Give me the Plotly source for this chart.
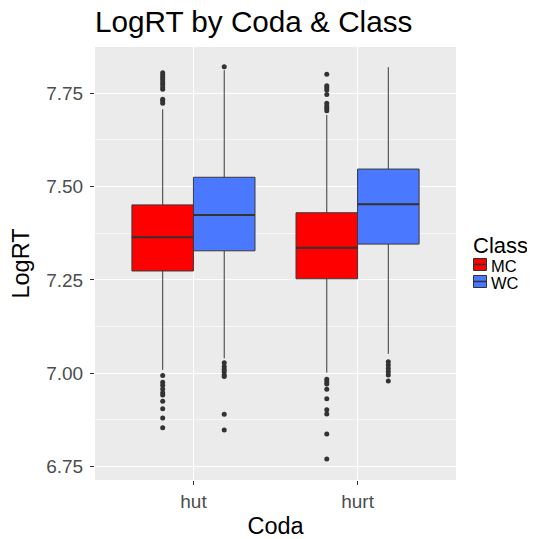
import plotly.graph_objects as go

codas = ["hut", "hurt"]
classes = ["MC", "WC"]
colors = {"MC": "#FF0000", "WC": "#4A78FF"}

# box statistics per (coda, class)
q1 = {"MC": [7.274, 7.253], "WC": [7.328, 7.346]}
median = {"MC": [7.364, 7.336], "WC": [7.424, 7.453]}
q3 = {"MC": [7.451, 7.430], "WC": [7.525, 7.547]}
lowerfence = {"MC": [7.009, 7.002], "WC": [7.040, 7.052]}
upperfence = {"MC": [7.707, 7.692], "WC": [7.812, 7.820]}

outliers = {
    ("hut", "MC"): [7.805, 7.799, 7.793, 7.787, 7.780, 7.774, 7.767, 7.761, 7.734, 7.729, 7.723,
                    6.994, 6.976, 6.968, 6.958, 6.948, 6.942, 6.925, 6.905, 6.880, 6.854],
    ("hut", "WC"): [7.821, 7.028, 7.018, 7.011, 7.004, 6.995, 6.991, 6.890, 6.848],
    ("hurt", "MC"): [7.801, 7.770, 7.765, 7.759, 7.747, 7.723, 7.716, 7.710, 7.703,
                     6.984, 6.977, 6.971, 6.957, 6.932, 6.902, 6.891, 6.837, 6.770],
    ("hurt", "WC"): [7.031, 7.022, 7.013, 7.004, 6.995, 6.979],
}

# the page body has an 8px default margin; size the figure so the visible window is filled
BODY = 8
W, H = 535 - BODY, 539 - BODY
ML, MR, MT, MB = 95 - BODY, 79, 47 - BODY, 59
PW, PH = W - ML - MR, H - MT - MB

dodge = 0.75
bw = dodge / len(classes)
offsets = {c: -dodge / 2 + bw * (i + 0.5) for i, c in enumerate(classes)}

fig = go.Figure()
for c in classes:
    for i, coda in enumerate(codas):
        xpos = i + 1 + offsets[c]
        fig.add_trace(go.Box(
            x=[xpos], q1=[q1[c][i]], median=[median[c][i]], q3=[q3[c][i]],
            lowerfence=[lowerfence[c][i]], upperfence=[upperfence[c][i]],
            width=bw, whiskerwidth=0, boxpoints=False,
            fillcolor=colors[c], line=dict(color="#3A3A3A", width=1),
            name=c, showlegend=False, hoverinfo="skip",
        ))
        # thicker median line (ggplot fatten)
        fig.add_trace(go.Scatter(
            x=[xpos - bw / 2, xpos + bw / 2], y=[median[c][i]] * 2, mode="lines",
            line=dict(color="#333333", width=2), showlegend=False, hoverinfo="skip",
        ))
        pts = outliers[(coda, c)]
        fig.add_trace(go.Scatter(
            x=[xpos] * len(pts), y=pts, mode="markers",
            marker=dict(color="#333333", size=5), showlegend=False, hoverinfo="skip",
        ))


def px_x(p):  # page pixel -> paper fraction
    return (p - BODY - ML) / PW


def px_y(p):
    return (H - MB - (p - BODY)) / PH


# manual ggplot-style legend
shapes = []
annotations = [dict(text="Class", x=px_x(471), y=px_y(245.5), xref="paper", yref="paper",
                    xanchor="left", yanchor="middle", showarrow=False,
                    font=dict(size=22, color="black"))]
for k, c in enumerate(classes):
    top = 258.5 + k * 17
    shapes.append(dict(type="rect", xref="paper", yref="paper",
                       x0=px_x(473.5), x1=px_x(486.5), y0=px_y(top), y1=px_y(top + 12),
                       fillcolor=colors[c], line=dict(color="#333333", width=1)))
    shapes.append(dict(type="line", xref="paper", yref="paper",
                       x0=px_x(473.5), x1=px_x(486.5), y0=px_y(top + 6), y1=px_y(top + 6),
                       line=dict(color="#333333", width=1.5)))
    annotations.append(dict(text=c, x=px_x(489.5), y=px_y(top + 7.5), xref="paper", yref="paper",
                            xanchor="left", yanchor="middle", showarrow=False,
                            font=dict(size=16.5, color="black")))

fig.update_layout(
    width=W, height=H,
    margin=dict(l=ML, r=MR, t=MT, b=MB),
    paper_bgcolor="white", plot_bgcolor="#EBEBEB",
    font=dict(family="Liberation Sans, Arial, sans-serif", color="black"),
    title=dict(text="LogRT by Coda & Class", x=0, xref="paper", xanchor="left",
               y=1, yref="container", yanchor="top", pad=dict(t=3),
               font=dict(size=29.7, color="black")),
    showlegend=False,
    shapes=shapes, annotations=annotations,
)
fig.update_xaxes(
    range=[0.4, 2.6], tickvals=[1, 2], ticktext=codas, automargin=False,
    showgrid=True, gridcolor="white", gridwidth=1.4, zeroline=False,
    ticks="outside", ticklen=4, tickcolor="#333333",
    tickfont=dict(size=19, color="#4D4D4D"),
    title=dict(text="Coda", font=dict(size=23.5), standoff=6),
)
fig.update_yaxes(
    range=[6.714, 7.874], tick0=6.75, dtick=0.25, tickformat=".2f", automargin=False,
    showgrid=True, gridcolor="white", gridwidth=1.4, zeroline=False,
    ticks="outside", ticklen=4, tickcolor="#333333", ticklabelstandoff=3,
    tickfont=dict(size=19, color="#4D4D4D"),
    minor=dict(dtick=0.125, tick0=6.875, showgrid=True, gridcolor="#F7F7F7", gridwidth=0.7, ticks=""),
    title=dict(text="LogRT", font=dict(size=23.5), standoff=13),
)

fig.write_html("out.html")
